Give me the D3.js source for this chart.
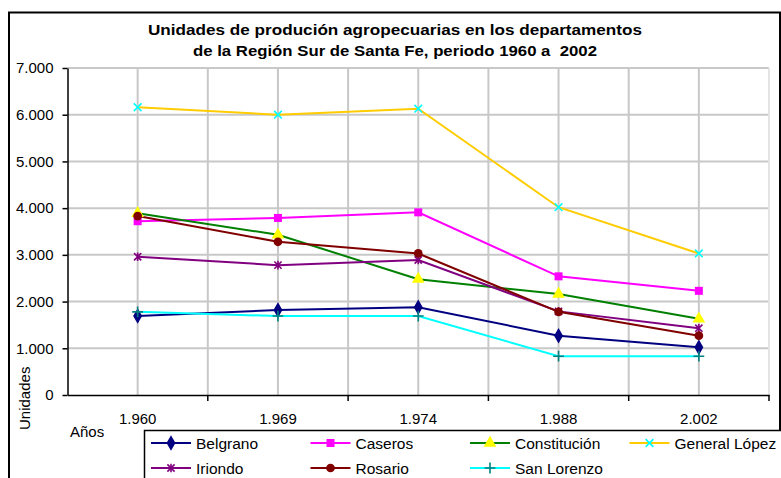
<!DOCTYPE html>
<html>
<head>
<meta charset="utf-8">
<script src="https://cdn.jsdelivr.net/npm/d3@7"></script>
<style>
  html, body { margin: 0; padding: 0; background: #fff; }
  svg { display: block; font-family: "Liberation Sans", Arial, sans-serif; }
</style>
</head>
<body>
<svg id="chart" width="781" height="478"></svg>
<script>
// Census years and units per department
const years = [1960, 1969, 1974, 1988, 2002];
const yTicks = [0, 1000, 2000, 3000, 4000, 5000, 6000, 7000];

const belgrano     = [1690, 1820, 1880, 1270, 1020];
const caseros      = [3720, 3790, 3910, 2540, 2230];
const constitucion = [3890, 3430, 2480, 2160, 1630];
const generalLopez = [6160, 6000, 6130, 4020, 3030];
const iriondo      = [2960, 2780, 2890, 1790, 1430];
const rosario      = [3830, 3280, 3030, 1780, 1270];
const sanLorenzo   = [1780, 1690, 1690, 830, 830];

const seriesNames = ["Belgrano", "Caseros", "Constitución", "General López", "Iriondo", "Rosario", "San Lorenzo"];
const seriesValues = [belgrano, caseros, constitucion, generalLopez, iriondo, rosario, sanLorenzo];

const titleLines = [
  "Unidades de produción agropecuarias en los departamentos",
  "de la Región Sur de Santa Fe, periodo 1960 a  2002"
];

// Styles per series: line colour, marker fill/stroke and marker kind
const styles = [
  { line: "#000080", mark: "#000080", kind: "diamond" },
  { line: "#ff00ff", mark: "#ff00ff", kind: "square" },
  { line: "#008000", mark: "#ffff00", kind: "triangle" },
  { line: "#ffcc00", mark: "#00ffff", kind: "x" },
  { line: "#800080", mark: "#800080", kind: "star" },
  { line: "#800000", mark: "#800000", kind: "circle" },
  { line: "#00ffff", mark: "#008080", kind: "plus" }
];

const esLocale = d3.formatLocale({ decimal: ",", thousands: ".", grouping: [3], currency: ["$", ""] });
const fmt = esLocale.format(",");

const svg = d3.select("#chart");

// Outer chart frame
svg.append("rect")
  .attr("x", 9).attr("y", 12.5).attr("width", 771).attr("height", 480)
  .attr("fill", "#fff").attr("stroke", "#000").attr("stroke-width", 2);

// Title (two centred lines, slightly widened bold type)
const titleWidths = [494, 404];
titleLines.forEach((t, i) => {
  svg.append("text")
    .attr("x", 395).attr("y", 35 + i * 21)
    .attr("text-anchor", "middle")
    .attr("font-weight", "bold")
    .attr("font-size", 15)
    .attr("fill", "#000")
    .attr("textLength", titleWidths[i])
    .attr("lengthAdjust", "spacingAndGlyphs")
    .style("white-space", "pre")
    .text(t);
});

// Scales
const plot = { left: 67.5, right: 769, top: 68, bottom: 395 };
const x = d3.scaleBand().domain(years).range([plot.left, plot.right]).paddingInner(0).paddingOuter(0);
const cx = d => x(d) + x.bandwidth() / 2;
const y = d3.scaleLinear().domain([0, 7000]).range([plot.bottom, plot.top]);

const grid = svg.append("g").attr("stroke", "#c8c8c8").attr("stroke-width", 2);
// horizontal gridlines
grid.selectAll("line.h").data(yTicks.slice(1)).join("line")
  .attr("x1", plot.left).attr("x2", plot.right)
  .attr("y1", d => y(d)).attr("y2", d => y(d));
// vertical gridlines at category centres and boundaries
const boundaries = years.map(d => x(d) + x.bandwidth());
grid.selectAll("line.c").data(years).join("line")
  .attr("x1", d => cx(d)).attr("x2", d => cx(d))
  .attr("y1", plot.top).attr("y2", plot.bottom);
grid.selectAll("line.b").data(boundaries).enter().append("line")
  .attr("x1", d => d).attr("x2", d => d)
  .attr("y1", plot.top).attr("y2", plot.bottom)
  .attr("stroke", (d, i) => i === boundaries.length - 1 ? "#e4e4e4" : null);

// Y axis
const yAxis = svg.append("g")
  .attr("transform", `translate(${plot.left},0)`)
  .call(d3.axisLeft(y).tickValues(yTicks).tickFormat(fmt).tickSize(5).tickSizeOuter(0).tickPadding(9));
yAxis.select(".domain").attr("stroke", "#000").attr("stroke-width", 1.5);
yAxis.selectAll(".tick line").attr("stroke", "#000").attr("stroke-width", 1.5);
yAxis.selectAll("text").attr("font-size", 15).attr("fill", "#000")
  .attr("font-family", "Liberation Sans, Arial, sans-serif");

// X axis: labels at category centres, tick marks at boundaries
const xAxis = svg.append("g")
  .attr("transform", `translate(0,${plot.bottom})`)
  .call(d3.axisBottom(x).tickFormat(fmt).tickSize(0).tickSizeOuter(0).tickPadding(18));
xAxis.select(".domain").attr("stroke", "#000").attr("stroke-width", 1.5);
xAxis.selectAll("text").attr("font-size", 15).attr("fill", "#000")
  .attr("font-family", "Liberation Sans, Arial, sans-serif");
xAxis.selectAll("line.bt").data(boundaries).enter().append("line")
  .attr("class", "bt")
  .attr("x1", d => d).attr("x2", d => d)
  .attr("y1", 0).attr("y2", 6)
  .attr("stroke", "#000").attr("stroke-width", 1.5);

// Axis titles
svg.append("text")
  .attr("transform", "translate(30,430) rotate(-90)")
  .attr("font-size", 15).attr("fill", "#000")
  .text("Unidades");
svg.append("text")
  .attr("x", 70).attr("y", 437)
  .attr("font-size", 15).attr("fill", "#000")
  .text("Años");

// Marker drawing
function markerPath(kind) {
  switch (kind) {
    case "diamond": return d3.symbol(d3.symbolDiamond, 70)();
    case "square": return d3.symbol(d3.symbolSquare, 64)();
    case "triangle": return d3.symbol(d3.symbolTriangle, 70)();
    case "circle": return d3.symbol(d3.symbolCircle, 60)();
    case "x": return d3.symbol(d3.symbolX, 40)();
    case "plus": return d3.symbol(d3.symbolPlus, 40)();
    case "star": {
      const r = 3.6;
      return `M${-r},${-r}L${r},${r}M${-r},${r}L${r},${-r}M0,${-r * 1.2}L0,${r * 1.2}`;
    }
  }
}
function drawMarker(g, kind, color) {
  const stroked = kind === "x" || kind === "plus" || kind === "star";
  g.append("path")
    .attr("d", markerPath(kind))
    .attr("fill", stroked ? "none" : color)
    .attr("stroke", stroked ? color : "none")
    .attr("stroke-width", stroked ? 1.6 : 0);
}

// Series lines and markers
const line = d3.line().x((d, i) => cx(years[i])).y(d => y(d));
const seriesG = svg.append("g");
seriesValues.forEach((vals, s) => {
  seriesG.append("path")
    .attr("d", line(vals))
    .attr("fill", "none")
    .attr("stroke", styles[s].line)
    .attr("stroke-width", 2);
});
seriesValues.forEach((vals, s) => {
  vals.forEach((v, i) => {
    const g = seriesG.append("g").attr("transform", `translate(${cx(years[i])},${y(v)})`);
    drawMarker(g, styles[s].kind, styles[s].mark);
  });
});

// Legend
const legend = svg.append("g");
legend.append("rect")
  .attr("x", 144.5).attr("y", 430.5).attr("width", 700).attr("height", 80)
  .attr("fill", "#fff").attr("stroke", "#000").attr("stroke-width", 1.5);
seriesNames.forEach((name, i) => {
  const col = i % 4, row = Math.floor(i / 4);
  const lx = 151 + col * 159.5, ly = 443 + row * 25;
  const g = legend.append("g").attr("transform", `translate(${lx},${ly})`);
  g.append("line").attr("x1", 0).attr("x2", 40).attr("y1", 0).attr("y2", 0)
    .attr("stroke", styles[i].line).attr("stroke-width", 2);
  const m = g.append("g").attr("transform", "translate(20,0)");
  drawMarker(m, styles[i].kind, styles[i].mark);
  g.append("text").attr("x", 45).attr("y", 5.5)
    .attr("font-size", 15.5).attr("fill", "#000").text(name);
});
</script>
</body>
</html>
